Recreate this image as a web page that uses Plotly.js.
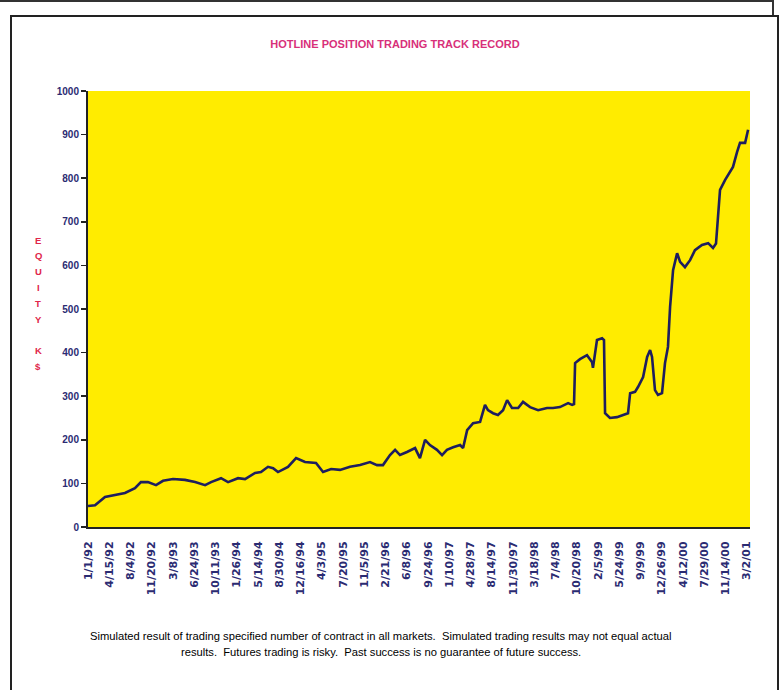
<!DOCTYPE html>
<html><head><meta charset="utf-8">
<script src="https://cdn.plot.ly/plotly-3.0.1.min.js"></script>
<style>
html,body{margin:0;padding:0;background:#fff;}
#wrap{position:relative;width:779px;height:690px;overflow:hidden;}
#chart{position:absolute;left:0;top:0;width:779px;height:690px;}
.frame{position:absolute;pointer-events:none;box-sizing:border-box;}
</style></head><body>
<div id="wrap"><div id="chart"></div>
<div class="frame" style="left:0;top:0;width:774px;height:17px;border-top:2px solid #333;border-right:2px solid #333;"></div>
<div class="frame" style="left:10px;top:15px;width:769px;height:700px;border:2px solid #222;"></div>
</div>
<script>
// X tick labels (evenly spaced category labels)
const tickLabels = ["1/1/92","4/15/92","8/4/92","11/20/92","3/8/93","6/24/93","10/11/93","1/26/94",
  "5/14/94","8/30/94","12/16/94","4/3/95","7/20/95","11/5/95","2/21/96","6/8/96","9/24/96",
  "1/10/97","4/28/97","8/14/97","11/30/97","3/18/98","7/4/98","10/20/98","2/5/99","5/24/99",
  "9/9/99","12/26/99","4/12/00","7/29/00","11/14/00","3/2/01"];

// Position of each reading, in units of label intervals (0 = 1/1/92, 31 = 3/2/01)
const equityPos = [0,0.33,0.80,1.27,1.74,2.21,2.49,2.82,3.20,3.53,4.00,4.56,5.04,5.51,5.79,6.26,6.59,7.06,7.39,
  7.86,8.14,8.47,8.71,8.94,9.41,9.79,10.21,10.73,11.06,11.44,11.86,12.33,12.80,13.27,13.60,13.88,14.21,14.45,
  14.68,15.01,15.39,15.62,15.86,16.09,16.42,16.66,16.89,17.18,17.51,17.65,17.84,18.12,18.45,18.68,18.82,19.06,
  19.29,19.53,19.72,19.95,20.24,20.47,20.80,21.18,21.60,21.88,22.21,22.59,22.78,22.87,22.92,23.15,23.48,23.72,
  23.76,23.95,24.19,24.28,24.33,24.56,24.89,25.18,25.41,25.51,25.74,25.88,26.12,26.31,26.45,26.54,26.68,26.82,
  27.01,27.15,27.29,27.39,27.53,27.72,27.86,28.09,28.33,28.56,28.89,29.18,29.41,29.55,29.60,29.74,29.98,30.12,
  30.35,30.54,30.68,30.92,31.06];
// Equity in K$
const equityK = [48,50,69,73,78,89,103,103,96,106,110,108,103,96,103,112,103,112,110,
  124,126,138,135,126,138,158,149,147,126,133,131,138,142,149,142,142,165,177,
  165,172,181,158,200,188,177,165,177,183,188,181,222,238,241,280,268,261,
  257,268,291,273,273,287,275,268,273,273,275,284,280,282,376,385,394,378,
  365,429,433,429,261,250,252,257,261,307,310,321,344,390,406,390,314,303,
  307,376,413,505,589,628,608,596,612,635,647,651,640,650,681,773,796,807,
  826,860,881,881,911];

const yAxisLetters = ["E","Q","U","I","T","Y","","K","$"];
const titleText = "HOTLINE POSITION TRADING TRACK RECORD";
const note1 = "Simulated result of trading specified number of contract in all markets.  Simulated trading results may not equal actual";
const note2 = "results.  Futures trading is risky.  Past success is no guarantee of future success.";

const navy = "#2b2b72";
const tickVals = tickLabels.map((_, i) => i);
const xRange = [0, 31.15];

const trace = {
  x: equityPos, y: equityK, type: "scatter", mode: "lines",
  line: {color: "#1e1e5e", width: 2.6}, hoverinfo: "skip", showlegend: false
};

// Layout helpers: plot area spans px 88..750 horizontally, 91..527 vertically
const pxX = px => (px - 88) / 662;
const pxY = py => (527 - py) / 436;

const annotations = [];
yAxisLetters.forEach((ch, i) => {
  if (!ch) return;
  annotations.push({text: "<b>" + ch + "</b>", xref: "paper", yref: "paper",
    x: pxX(38), y: pxY(240 + i * 15.8), showarrow: false, xanchor: "center", yanchor: "middle",
    font: {family: "Liberation Sans, Arial, sans-serif", size: 9.5, color: "#e0264a"}});
});
annotations.push({text: note1, xref: "paper", yref: "paper", x: pxX(380), y: pxY(636),
  showarrow: false, xanchor: "center", yanchor: "middle",
  font: {family: "Liberation Sans, Arial, sans-serif", size: 11.2, color: "#000"}});
annotations.push({text: note2, xref: "paper", yref: "paper", x: pxX(381), y: pxY(652),
  showarrow: false, xanchor: "center", yanchor: "middle",
  font: {family: "Liberation Sans, Arial, sans-serif", size: 11.2, color: "#000"}});

const layout = {
  width: 779, height: 690,
  margin: {l: 88, r: 29, t: 91, b: 163, pad: 0},
  paper_bgcolor: "rgba(0,0,0,0)",
  plot_bgcolor: "#ffec00",
  title: {text: "<b>" + titleText + "</b>", x: 395 / 779, xanchor: "center", xref: "container",
    y: 1 - 44 / 690, yanchor: "middle", yref: "container",
    font: {family: "Liberation Sans, Arial, sans-serif", size: 11, color: "#d8307a"}},
  xaxis: {
    range: xRange, tickmode: "array", tickvals: tickVals, ticktext: tickLabels,
    tickangle: -90, ticks: "", ticklabelstandoff: 8,
    tickfont: {family: "DejaVu Sans, sans-serif", size: 11, color: navy, weight: "bold"},
    showline: true, linecolor: "#222", linewidth: 2, showgrid: false, zeroline: false, fixedrange: true
  },
  xaxis2: {
    overlaying: "x", anchor: "y", side: "bottom", range: xRange,
    tickmode: "linear", tick0: 0, dtick: 5 / 6, ticks: "outside", ticklen: 5, tickwidth: 1.5, tickcolor: "#222",
    showticklabels: false, showline: false, showgrid: false, zeroline: false
  },
  yaxis: {
    range: [0, 1000], dtick: 100, tick0: 0, ticks: "outside", ticklen: 5, tickwidth: 1.5, tickcolor: "#222",
    tickfont: {family: "Liberation Sans, Arial, sans-serif", size: 10, color: navy, weight: "bold"},
    showline: true, linecolor: "#222", linewidth: 2, showgrid: false, zeroline: false, fixedrange: true
  },
  annotations: annotations
};

Plotly.newPlot("chart", [trace], layout, {staticPlot: true, displayModeBar: false});
</script>
</body></html>
